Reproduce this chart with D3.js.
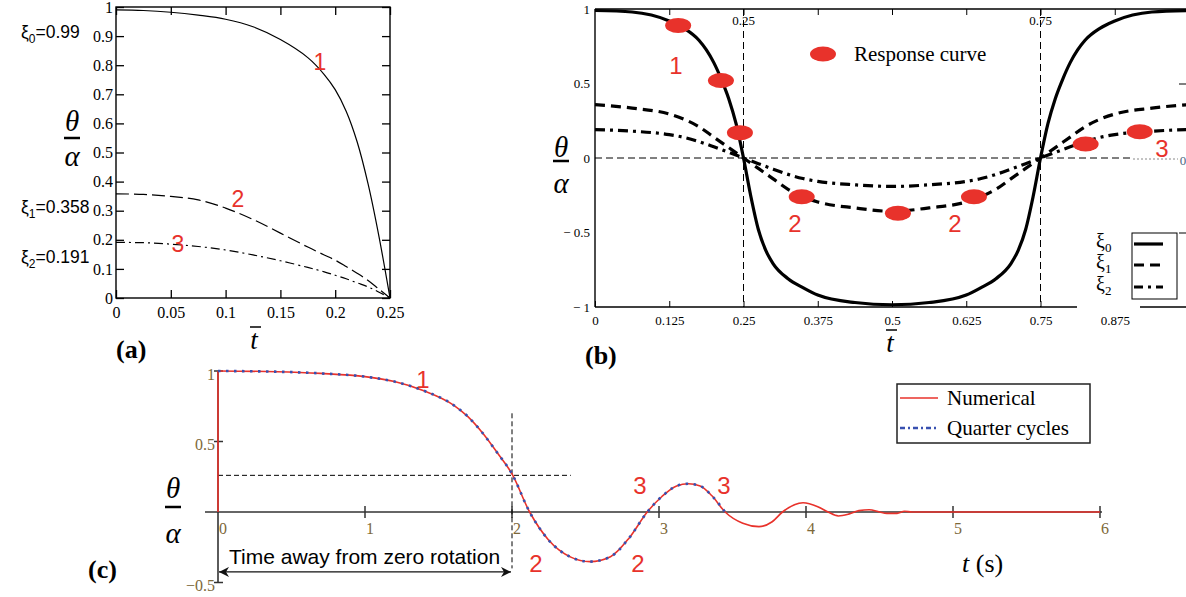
<!DOCTYPE html>
<html>
<head>
<meta charset="utf-8">
<script src="https://cdn.jsdelivr.net/npm/d3@7"></script>
<style>
body { margin: 0; background: #fff; }
text { font-family: "Liberation Serif", "Times New Roman", serif; }
.sans { font-family: "Liberation Sans", Arial, sans-serif; }
.domain { display: none; }
</style>
</head>
<body>
<script>
// ---- panel (a) data
var tA = [0, 0.025, 0.05, 0.075, 0.1, 0.125, 0.15, 0.175, 0.19, 0.2, 0.21, 0.22, 0.23, 0.24, 0.25];
var curve1A = [0.99, 0.988, 0.982, 0.972, 0.958, 0.932, 0.888, 0.826, 0.768, 0.716, 0.642, 0.537, 0.392, 0.21, 0];
var curve2A = [0.358, 0.356, 0.349, 0.337, 0.309, 0.27, 0.223, 0.175, 0.148, 0.13, 0.108, 0.085, 0.06, 0.03, 0];
var curve3A = [0.191, 0.19, 0.185, 0.177, 0.165, 0.148, 0.128, 0.105, 0.09, 0.078, 0.066, 0.052, 0.038, 0.02, 0];
var ticksAx = [0, 0.05, 0.1, 0.15, 0.2, 0.25];
var ticksAy = [0, 0.1, 0.2, 0.3, 0.4, 0.5, 0.6, 0.7, 0.8, 0.9, 1];
var xiNames = ["0", "1", "2"];
var xiValues = ["0.99", "0.358", "0.191"];

// ---- panel (b) data
var tB0 = [0, 0.0625, 0.125, 0.15, 0.175, 0.1875, 0.2, 0.2125, 0.225, 0.2375, 0.25, 0.2625, 0.275, 0.2875, 0.3, 0.325, 0.35, 0.375, 0.4375, 0.5,
           0.5625, 0.625, 0.65, 0.675, 0.7, 0.7125, 0.725, 0.7375, 0.75, 0.7625, 0.775, 0.7875, 0.8, 0.8125, 0.825, 0.85, 0.875, 0.9375, 1];
var xi0B = [0.99, 0.98, 0.92, 0.87, 0.79, 0.725, 0.64, 0.53, 0.4, 0.23, 0, -0.26, -0.48, -0.62, -0.71, -0.81, -0.87, -0.92, -0.97, -0.985,
            -0.97, -0.92, -0.87, -0.81, -0.71, -0.62, -0.48, -0.26, 0, 0.23, 0.4, 0.53, 0.64, 0.725, 0.79, 0.87, 0.92, 0.98, 0.99];
var tB = [0, 0.0625, 0.125, 0.15, 0.175, 0.2, 0.225, 0.25, 0.275, 0.3, 0.325, 0.35, 0.375, 0.4375, 0.5,
          0.5625, 0.625, 0.65, 0.675, 0.7, 0.725, 0.75, 0.775, 0.8, 0.825, 0.85, 0.875, 0.9375, 1];
var xi1B = [0.358, 0.335, 0.295, 0.26, 0.21, 0.14, 0.07, 0, -0.07, -0.14, -0.21, -0.26, -0.295, -0.335, -0.358,
            -0.335, -0.295, -0.26, -0.21, -0.14, -0.07, 0, 0.07, 0.14, 0.21, 0.26, 0.295, 0.335, 0.358];
var xi2B = [0.191, 0.18, 0.157, 0.138, 0.11, 0.075, 0.038, 0, -0.038, -0.075, -0.11, -0.138, -0.157, -0.18, -0.191,
            -0.18, -0.157, -0.138, -0.11, -0.075, -0.038, 0, 0.038, 0.075, 0.11, 0.138, 0.157, 0.18, 0.191];
var dotT = [0.14, 0.212, 0.244, 0.348, 0.51, 0.638, 0.826, 0.917];
var dotV = [0.89, 0.52, 0.17, -0.26, -0.37, -0.26, 0.094, 0.177];
var ticksBx = [0, 0.125, 0.25, 0.375, 0.5, 0.625, 0.75, 0.875];
var ticksBy = [-1, -0.5, 0, 0.5, 1];
var guidesB = [0.25, 0.75];

// ---- panel (c) data
var tC = [0, 0.4, 0.7, 1.0, 1.2, 1.4, 1.6, 1.7, 1.8, 1.9, 2.0, 2.12, 2.25, 2.4, 2.53, 2.67, 2.8, 2.92, 3.02, 3.12, 3.2, 3.28, 3.36, 3.45,
          3.57, 3.68, 3.77, 3.84, 3.98, 4.08, 4.15, 4.22, 4.29, 4.36, 4.43, 4.5, 4.55, 4.62, 4.67, 4.72, 6];
var vC = [1, 0.995, 0.983, 0.96, 0.925, 0.86, 0.76, 0.676, 0.56, 0.42, 0.27, 0, -0.2, -0.32, -0.352, -0.317, -0.18, 0, 0.11, 0.185, 0.2, 0.185, 0.115, 0,
          -0.08, -0.104, -0.069, 0, 0.066, 0.038, 0, -0.028, -0.015, 0.01, 0.016, 0, -0.01, -0.01, 0.005, 0, 0];
var quarterEnd = 3.45;
var ticksCx = [0, 1, 2, 3, 4, 5, 6];
var ticksCy = [-0.5, 0.5, 1];
var guideC = { t: 2, v: 0.26, tEnd: 2.4, vTop: 0.7, vBottom: -0.4, arrowV: -0.425 };

var red = "#e8322b";
var blue = "#3850b0";

var svg = d3.select("body").append("svg")
    .attr("width", 1186)
    .attr("height", 597);

function frac(x, yT, yBar, yAl) {
    svg.append("text").attr("x", x).attr("y", yT).attr("text-anchor", "middle")
        .attr("dominant-baseline", "central").style("font-style", "italic").style("font-size", "29px").text("θ");
    svg.append("line").attr("x1", x - 8).attr("x2", x + 8).attr("y1", yBar).attr("y2", yBar)
        .attr("stroke", "#000").attr("stroke-width", 2.5);
    svg.append("text").attr("x", x).attr("y", yAl).attr("text-anchor", "middle")
        .attr("dominant-baseline", "central").style("font-style", "italic").style("font-size", "29px").text("α");
}
function tbar(x, y) {
    svg.append("text").attr("x", x).attr("y", y).attr("text-anchor", "middle")
        .attr("dominant-baseline", "central").style("font-style", "italic").style("font-size", "27px").text("t");
    svg.append("line").attr("x1", x - 4).attr("x2", x + 7).attr("y1", y - 13).attr("y2", y - 13)
        .attr("stroke", "#000").attr("stroke-width", 1.5);
}
function redNum(x, y, s, size) {
    svg.append("text").classed("sans", true).attr("x", x).attr("y", y).attr("text-anchor", "middle")
        .attr("dominant-baseline", "central").style("font-size", size + "px").style("fill", red).text(s);
}
function panelTag(x, y, s) {
    svg.append("text").attr("x", x).attr("y", y).style("font-weight", "bold").style("font-size", "26px").text(s);
}

// =================== (a)
var xA = d3.scaleLinear().domain([0, 0.25]).range([116, 390]);
var yA = d3.scaleLinear().domain([0, 1]).range([298, 7]);
var gA = svg.append("g").classed("panel-a", true);

gA.append("g").attr("transform", "translate(0," + yA(0) + ")")
    .call(d3.axisBottom(xA).tickValues(ticksAx).tickSize(-8).tickPadding(9).tickFormat(d3.format("~g")))
    .selectAll("text").style("font-size", "16px").style("font-family", "Liberation Serif");
gA.append("g").attr("transform", "translate(0," + yA(1) + ")")
    .call(d3.axisTop(xA).tickValues(ticksAx).tickSize(-8).tickFormat(""));
gA.append("g").attr("transform", "translate(" + xA(0) + ",0)")
    .call(d3.axisLeft(yA).tickValues(ticksAy).tickSize(-8).tickPadding(3).tickFormat(d3.format("~g")))
    .selectAll("text").style("font-size", "16px").style("font-family", "Liberation Serif");
gA.append("g").attr("transform", "translate(" + xA(0.25) + ",0)")
    .call(d3.axisRight(yA).tickValues(ticksAy).tickSize(-8).tickFormat(""));
gA.selectAll(".tick line").attr("stroke-width", 1.3);
gA.append("rect").attr("x", xA(0)).attr("y", yA(1))
    .attr("width", xA(0.25) - xA(0)).attr("height", yA(0) - yA(1))
    .attr("fill", "none").attr("stroke", "#000").attr("stroke-width", 1.4);

var lineA = function (vals) {
    return d3.line().x(function (d, i) { return xA(tA[i]); }).y(function (d) { return yA(d); })
        .curve(d3.curveCatmullRom)(vals);
};
gA.append("path").attr("d", lineA(curve1A)).attr("fill", "none").attr("stroke", "#000").attr("stroke-width", 1.2);
gA.append("path").attr("d", lineA(curve2A)).attr("fill", "none").attr("stroke", "#000").attr("stroke-width", 1.2)
    .attr("stroke-dasharray", "13,5");
gA.append("path").attr("d", lineA(curve3A)).attr("fill", "none").attr("stroke", "#000").attr("stroke-width", 1.2)
    .attr("stroke-dasharray", "9,4,2,4");

var xiY = [38, 213, 263];
xiNames.forEach(function (n, i) {
    var t = svg.append("text").classed("sans", true).attr("x", 21).attr("y", xiY[i]).style("font-size", "17.5px");
    t.append("tspan").text("ξ");
    t.append("tspan").attr("dy", 5).style("font-size", "12px").text(n);
    t.append("tspan").attr("dy", -5).text("=" + xiValues[i]);
});
frac(72, 121, 138, 156);
tbar(254, 340);
panelTag(116, 358, "(a)");
redNum(320, 62, "1", 23);
redNum(238, 199, "2", 23);
redNum(178, 244, "3", 23);

// =================== (b)
var xB = d3.scaleLinear().domain([0, 1]).range([595, 1189]);
var yB = d3.scaleLinear().domain([-1, 1]).range([307, 9]);
var gB = svg.append("g").classed("panel-b", true);

var bx = gB.append("g").attr("transform", "translate(0," + yB(-1) + ")")
    .call(d3.axisBottom(xB).tickValues(ticksBx).tickSize(-6).tickPadding(9).tickFormat(d3.format("~g")));
bx.selectAll("text").style("font-size", "13px").style("font-family", "Liberation Serif");
bx.selectAll(".tick line").filter(function (d) { return d > 0.8; }).remove();
gB.append("g").attr("transform", "translate(0," + yB(1) + ")")
    .call(d3.axisTop(xB).tickValues(ticksBx.slice(1)).tickSize(-6).tickFormat(""));
gB.append("g").attr("transform", "translate(" + xB(0) + ",0)")
    .call(d3.axisLeft(yB).tickValues(ticksBy).tickSize(0).tickPadding(5)
        .tickFormat(function (d) { return d < 0 ? "\u2212 " + Math.abs(d) : d; }))
    .selectAll("text").style("font-size", "13px").style("font-family", "Liberation Serif");
gB.append("g").attr("transform", "translate(" + xB(1) + ",0)")
    .call(d3.axisRight(yB).tickValues([-0.5, 0.5]).tickSize(-10).tickFormat(""));

// frame
gB.append("line").attr("x1", xB(0)).attr("x2", xB(0)).attr("y1", yB(1)).attr("y2", yB(-1)).attr("stroke", "#000").attr("stroke-width", 1.4);
gB.append("line").attr("x1", xB(0)).attr("x2", xB(1)).attr("y1", yB(1)).attr("y2", yB(1)).attr("stroke", "#000").attr("stroke-width", 1.4);
gB.append("line").attr("x1", xB(0)).attr("x2", 1077).attr("y1", yB(-1)).attr("y2", yB(-1)).attr("stroke", "#000").attr("stroke-width", 1.4);
gB.append("line").attr("x1", 1140).attr("x2", xB(1)).attr("y1", yB(-1)).attr("y2", yB(-1)).attr("stroke", "#000").attr("stroke-width", 1.4);

// guide lines
guidesB.forEach(function (g) {
    gB.append("line").attr("x1", xB(g)).attr("x2", xB(g)).attr("y1", yB(1)).attr("y2", yB(-1))
        .attr("stroke", "#000").attr("stroke-width", 1).attr("stroke-dasharray", "7,4");
    gB.append("text").attr("x", xB(g)).attr("y", yB(1) + 11).attr("text-anchor", "middle")
        .attr("dominant-baseline", "central").style("font-size", "13px").text(d3.format("~g")(g));
});
gB.append("line").attr("x1", xB(0)).attr("x2", 1133).attr("y1", yB(0)).attr("y2", yB(0))
    .attr("stroke", "#000").attr("stroke-width", 1).attr("stroke-dasharray", "7,4");
gB.append("line").attr("x1", 1133).attr("x2", 1178).attr("y1", yB(0) + 1).attr("y2", yB(0) + 1)
    .attr("stroke", "#888").attr("stroke-width", 1).attr("stroke-dasharray", "2,2");
gB.append("text").attr("x", 1183).attr("y", yB(0) + 2).attr("text-anchor", "middle")
    .attr("dominant-baseline", "central").style("font-size", "13px").style("fill", "#4a5f80").text("0");

var lineB = function (ts, vals) {
    return d3.line().x(function (d, i) { return xB(ts[i]); }).y(function (d) { return yB(d); })
        .curve(d3.curveMonotoneX)(vals);
};
gB.append("path").attr("d", lineB(tB0, xi0B)).attr("fill", "none").attr("stroke", "#000").attr("stroke-width", 3.2);
gB.append("path").attr("d", lineB(tB, xi1B)).attr("fill", "none").attr("stroke", "#000").attr("stroke-width", 3.2)
    .attr("stroke-dasharray", "10,6");
gB.append("path").attr("d", lineB(tB, xi2B)).attr("fill", "none").attr("stroke", "#000").attr("stroke-width", 3.2)
    .attr("stroke-dasharray", "10,5,3,5");

gB.selectAll(".dot").data(dotT).enter().append("ellipse").classed("dot", true)
    .attr("cx", function (d) { return xB(d); })
    .attr("cy", function (d, i) { return yB(dotV[i]); })
    .attr("rx", 13).attr("ry", 7.5).style("fill", red);

// response legend
gB.append("ellipse").attr("cx", 823).attr("cy", 54).attr("rx", 13).attr("ry", 7.5).style("fill", red);
gB.append("text").attr("x", 854).attr("y", 61).style("font-size", "21px").text("Response curve");

// line legend
gB.append("rect").attr("x", 1132).attr("y", 233).attr("width", 45).attr("height", 66)
    .attr("fill", "#fff").attr("stroke", "#000").attr("stroke-width", 1);
var legDash = ["none", "10,6", "9,5,3,5"];
var legY = [244, 265, 287];
legDash.forEach(function (ds, i) {
    gB.append("line").attr("x1", 1134).attr("x2", 1163).attr("y1", legY[i]).attr("y2", legY[i])
        .attr("stroke", "#000").attr("stroke-width", 3.2).attr("stroke-dasharray", ds);
    var t = gB.append("text").attr("x", 1096).attr("y", legY[i] + 4).style("font-size", "20px");
    t.append("tspan").text("ξ");
    t.append("tspan").attr("dy", 4).style("font-size", "13px").text(xiNames[i]);
});

frac(561, 147, 161, 183);
tbar(890, 343);
panelTag(585, 364, "(b)");
redNum(676, 65, "1", 24);
redNum(795, 223, "2", 24);
redNum(955, 223, "2", 24);
redNum(1162, 148, "3", 24);

// =================== (c)
var xC = d3.scaleLinear().domain([0, 6]).range([218, 1100]);
var yC = d3.scaleLinear().domain([-0.5, 1]).range([582.5, 371]);
var gC = svg.append("g").classed("panel-c", true);
var axisCol = "#333";
var labCol = "#7d6838";

gC.append("line").attr("x1", xC(0) - 13).attr("x2", xC(6) + 2).attr("y1", yC(0)).attr("y2", yC(0))
    .attr("stroke", axisCol).attr("stroke-width", 1.6);
gC.append("line").attr("x1", xC(0)).attr("x2", xC(0)).attr("y1", yC(1)).attr("y2", yC(-0.5))
    .attr("stroke", axisCol).attr("stroke-width", 1.6);
gC.selectAll(".xt").data(ticksCx.slice(1)).enter().append("line").classed("xt", true)
    .attr("x1", function (d) { return xC(d); }).attr("x2", function (d) { return xC(d); })
    .attr("y1", yC(0) - 6).attr("y2", yC(0) + 6).attr("stroke", axisCol).attr("stroke-width", 1.5);
gC.selectAll(".yt").data(ticksCy).enter().append("line").classed("yt", true)
    .attr("x1", xC(0) - 4).attr("x2", xC(0) + 5)
    .attr("y1", function (d) { return yC(d); }).attr("y2", function (d) { return yC(d); })
    .attr("stroke", axisCol).attr("stroke-width", 1.5);
gC.selectAll(".xl").data(ticksCx).enter().append("text").classed("xl", true)
    .attr("x", function (d) { return xC(d) + 5; }).attr("y", yC(0) + 16)
    .attr("text-anchor", "middle").attr("dominant-baseline", "central")
    .style("font-size", "16px").style("fill", labCol).text(function (d) { return d; });
gC.selectAll(".yl").data(ticksCy).enter().append("text").classed("yl", true)
    .attr("x", xC(0) - 3).attr("y", function (d) { return yC(d) + 3; })
    .attr("text-anchor", "end").attr("dominant-baseline", "central")
    .style("font-size", "16px").style("fill", labCol)
    .text(function (d) { return d < 0 ? "\u2212" + Math.abs(d) : d; });

// guides
gC.append("line").attr("x1", xC(guideC.t)).attr("x2", xC(guideC.t)).attr("y1", yC(guideC.vTop)).attr("y2", yC(guideC.vBottom))
    .attr("stroke", "#000").attr("stroke-width", 1).attr("stroke-dasharray", "5,3");
gC.append("line").attr("x1", xC(0)).attr("x2", xC(guideC.tEnd)).attr("y1", yC(guideC.v)).attr("y2", yC(guideC.v))
    .attr("stroke", "#000").attr("stroke-width", 1).attr("stroke-dasharray", "5,3");

// arrow
var defs = svg.append("defs");
defs.append("marker").attr("id", "ah").attr("viewBox", "0 0 10 10").attr("refX", 10).attr("refY", 5)
    .attr("markerWidth", 14).attr("markerHeight", 10).attr("markerUnits", "userSpaceOnUse").attr("orient", "auto-start-reverse")
    .append("path").attr("d", "M0,0 L10,5 L0,10 L3,5 Z").attr("fill", "#111");
gC.append("line").attr("x1", xC(0) + 1).attr("x2", xC(guideC.t) - 1).attr("y1", yC(guideC.arrowV)).attr("y2", yC(guideC.arrowV))
    .attr("stroke", "#111").attr("stroke-width", 1.3)
    .attr("marker-start", "url(#ah)").attr("marker-end", "url(#ah)");
gC.append("text").classed("sans", true).attr("x", 229).attr("y", 564).style("font-size", "21px")
    .text("Time away from zero rotation");

// curves
gC.append("line").attr("x1", xC(0)).attr("x2", xC(0)).attr("y1", yC(0)).attr("y2", yC(vC[0]))
    .attr("stroke", red).attr("stroke-width", 1.6);
var lineC = d3.line().x(function (d) { return xC(d[0]); }).y(function (d) { return yC(d[1]); }).curve(d3.curveMonotoneX);
var ptsC = tC.map(function (t, i) { return [t, vC[i]]; });
gC.append("path").attr("d", lineC(ptsC)).attr("fill", "none").attr("stroke", red).attr("stroke-width", 1.6);
gC.append("path").attr("d", lineC(ptsC.filter(function (p) { return p[0] <= quarterEnd; })))
    .attr("fill", "none").attr("stroke", blue).attr("stroke-width", 2.6).attr("stroke-dasharray", "2.5,5.5");

// legend
gC.append("rect").attr("x", 897).attr("y", 384).attr("width", 193).attr("height", 59)
    .attr("fill", "#fff").attr("stroke", "#222").attr("stroke-width", 1.5);
gC.append("line").attr("x1", 900).attr("x2", 938).attr("y1", 398).attr("y2", 398).attr("stroke", red).attr("stroke-width", 1.6);
gC.append("line").attr("x1", 900).attr("x2", 938).attr("y1", 428).attr("y2", 428).attr("stroke", blue).attr("stroke-width", 2.4)
    .attr("stroke-dasharray", "5,3,2,3");
gC.append("text").attr("x", 947).attr("y", 405).style("font-size", "21px").text("Numerical");
gC.append("text").attr("x", 947).attr("y", 435).style("font-size", "21px").text("Quarter cycles");

var ts = gC.append("text").attr("x", 962).attr("y", 572).style("font-size", "26px");
ts.append("tspan").style("font-style", "italic").text("t");
ts.append("tspan").text(" (s)");

frac(173, 488, 507, 533);
panelTag(88, 578, "(c)");
redNum(423, 379, "1", 24);
redNum(536, 563, "2", 24);
redNum(638, 563, "2", 24);
redNum(640, 485, "3", 24);
redNum(724, 485, "3", 24);
</script>
</body>
</html>
